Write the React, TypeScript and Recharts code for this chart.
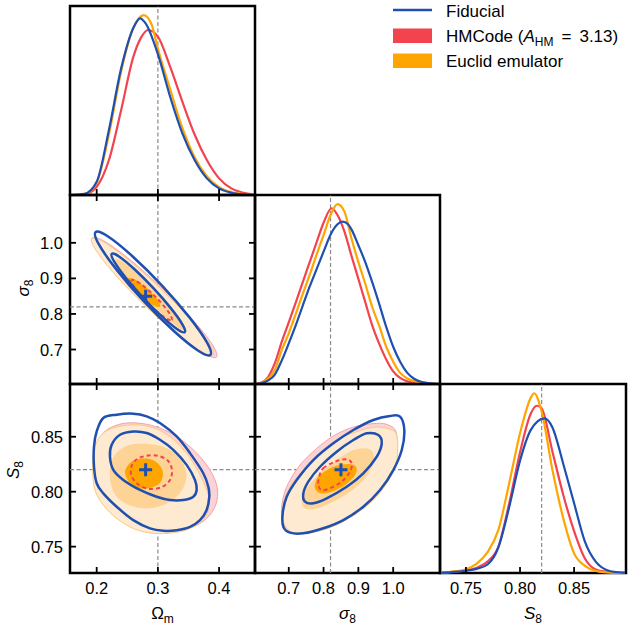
import React from 'react';
import { ComposedChart, Line, Scatter, XAxis, YAxis, ReferenceLine, ReferenceArea } from 'recharts';

// ---------- colours ----------
const BLUE = '#1f4fb0';
const RED = '#f2434e';
const ORANGE = '#ffa500';
const PINK_FILL = '#f9d3d5';
const PINK_EDGE = '#f3a3aa';
const OR2_FILL = '#feead0';
const OR2_EDGE = '#fdc880';
const OR1_FILL = '#fed396';
const CORE_FILL = '#ffa500';
const GREY = '#8a8a8a';
const FONT = '"Liberation Sans", Arial, sans-serif';

// ---------- axes ----------
const omDomain: [number, number] = [0.1564, 0.4587];
const sigDomain: [number, number] = [0.603, 1.1345];
const s8Domain: [number, number] = [0.726, 0.898];
const densDomain: [number, number] = [0, 1];

const omTicks = [0.2, 0.3, 0.4];
const omTickLabels = ['0.2', '0.3', '0.4'];
const sigTicks = [0.7, 0.8, 0.9, 1.0];
const sigTickLabels = ['0.7', '0.8', '0.9', '1.0'];
const s8Ticks = [0.75, 0.8, 0.85];
const s8TickLabels = ['0.75', '0.80', '0.85'];

const truthOm = 0.3;
const truthSig = 0.82;
const truthS8 = 0.82;
const bestOm = 0.28;
const bestSig = 0.85;
const bestS8 = 0.82;

// ---------- 1D marginals (x, normalised density) ----------
const omBlue = [[0.16, 0], [0.18, 0.006], [0.2, 0.07], [0.22, 0.344], [0.24, 0.67], [0.26, 0.885], [0.271, 0.935], [0.28, 0.908], [0.3, 0.745], [0.32, 0.52], [0.34, 0.326], [0.36, 0.185], [0.38, 0.088], [0.4, 0.035], [0.42, 0.012], [0.44, 0.003], [0.455, 0]];
const omRed = [[0.16, 0], [0.18, 0.004], [0.2, 0.044], [0.22, 0.185], [0.24, 0.45], [0.26, 0.732], [0.272, 0.83], [0.284, 0.873], [0.3, 0.838], [0.32, 0.679], [0.34, 0.494], [0.36, 0.32], [0.38, 0.185], [0.4, 0.088], [0.42, 0.035], [0.44, 0.012], [0.455, 0.003]];
const omOrange = [[0.16, 0], [0.18, 0.005], [0.2, 0.065], [0.22, 0.32], [0.24, 0.655], [0.26, 0.885], [0.277, 0.952], [0.29, 0.9], [0.3, 0.775], [0.32, 0.56], [0.34, 0.355], [0.36, 0.2], [0.38, 0.1], [0.4, 0.042], [0.42, 0.015], [0.44, 0.004], [0.455, 0]];

const sigBlue = [[0.605, 0], [0.62, 0.003], [0.64, 0.018], [0.66, 0.05], [0.68, 0.125], [0.7, 0.215], [0.72, 0.31], [0.74, 0.414], [0.76, 0.515], [0.78, 0.608], [0.8, 0.7], [0.82, 0.79], [0.84, 0.845], [0.855, 0.859], [0.87, 0.845], [0.88, 0.818], [0.9, 0.734], [0.92, 0.644], [0.94, 0.538], [0.96, 0.423], [0.98, 0.302], [1.0, 0.197], [1.02, 0.118], [1.04, 0.06], [1.06, 0.028], [1.08, 0.012], [1.1, 0.005], [1.13, 0]];
const sigRed = [[0.605, 0], [0.62, 0.006], [0.64, 0.035], [0.66, 0.11], [0.68, 0.224], [0.7, 0.326], [0.72, 0.43], [0.74, 0.538], [0.76, 0.644], [0.78, 0.75], [0.8, 0.853], [0.823, 0.93], [0.84, 0.894], [0.86, 0.806], [0.88, 0.679], [0.9, 0.556], [0.92, 0.432], [0.94, 0.309], [0.96, 0.212], [0.98, 0.13], [1.0, 0.067], [1.02, 0.032], [1.04, 0.014], [1.06, 0.006], [1.1, 0.001], [1.13, 0]];
const sigOrange = [[0.605, 0], [0.62, 0.005], [0.64, 0.027], [0.66, 0.074], [0.68, 0.18], [0.7, 0.268], [0.72, 0.37], [0.74, 0.476], [0.76, 0.577], [0.78, 0.684], [0.8, 0.788], [0.82, 0.894], [0.84, 0.952], [0.86, 0.912], [0.88, 0.771], [0.9, 0.645], [0.92, 0.529], [0.94, 0.406], [0.96, 0.307], [0.98, 0.197], [1.0, 0.118], [1.02, 0.059], [1.04, 0.03], [1.06, 0.015], [1.08, 0.007], [1.1, 0.003], [1.13, 0]];

const s8Blue = [[0.727, 0.001], [0.74, 0.006], [0.75, 0.012], [0.76, 0.022], [0.77, 0.045], [0.78, 0.136], [0.79, 0.349], [0.8, 0.594], [0.81, 0.757], [0.8225, 0.818], [0.83, 0.77], [0.84, 0.577], [0.85, 0.369], [0.86, 0.166], [0.87, 0.06], [0.88, 0.016], [0.89, 0.004], [0.897, 0.001]];
const s8Red = [[0.727, 0.001], [0.74, 0.007], [0.75, 0.013], [0.76, 0.028], [0.77, 0.06], [0.78, 0.14], [0.79, 0.369], [0.8, 0.639], [0.81, 0.844], [0.8155, 0.885], [0.82, 0.871], [0.83, 0.642], [0.84, 0.413], [0.85, 0.222], [0.86, 0.077], [0.87, 0.019], [0.88, 0.006], [0.89, 0.002], [0.897, 0]];
const s8Orange = [[0.727, 0.002], [0.74, 0.009], [0.75, 0.02], [0.76, 0.05], [0.77, 0.11], [0.78, 0.228], [0.79, 0.475], [0.8, 0.739], [0.81, 0.928], [0.813, 0.951], [0.82, 0.854], [0.83, 0.545], [0.84, 0.289], [0.85, 0.104], [0.86, 0.038], [0.87, 0.011], [0.88, 0.003], [0.897, 0]];

// ---------- 2D contours: Omega_m vs sigma_8 ----------
const pinkA = [[0.3959, 0.6786], [0.3892, 0.7132], [0.357, 0.7835], [0.308, 0.8707], [0.2555, 0.9511], [0.2134, 1.0034], [0.193, 1.0139], [0.1997, 0.9793], [0.232, 0.909], [0.2809, 0.8218], [0.3334, 0.7414], [0.3755, 0.6891]];
const orange2A = [[0.3902, 0.6848], [0.3835, 0.7184], [0.352, 0.7869], [0.3043, 0.8718], [0.253, 0.9506], [0.212, 1.0019], [0.1922, 1.0122], [0.1989, 0.9786], [0.2304, 0.9101], [0.2781, 0.8252], [0.3294, 0.7464], [0.3705, 0.6951]];
const orange1A = [[0.3459, 0.7529], [0.3417, 0.7723], [0.3234, 0.8133], [0.2958, 0.8651], [0.2662, 0.9137], [0.2427, 0.9461], [0.2316, 0.9537], [0.2358, 0.9343], [0.2541, 0.8932], [0.2817, 0.8415], [0.3113, 0.7928], [0.3348, 0.7605]];
const coreA = [[0.3035, 0.8204], [0.2999, 0.8395], [0.283, 0.8707], [0.2633, 0.896], [0.2517, 0.9002], [0.2554, 0.8811], [0.2722, 0.8499], [0.292, 0.8246]];
const dashA = [[0.3226, 0.783], [0.317, 0.8066], [0.2956, 0.8491], [0.2709, 0.8859], [0.2572, 0.8955], [0.2628, 0.8718], [0.2842, 0.8294], [0.3089, 0.7925]];
const blueOuterA = [[0.3858, 0.6848], [0.3804, 0.7194], [0.3513, 0.7911], [0.3064, 0.8806], [0.2575, 0.9638], [0.218, 1.0186], [0.1982, 1.0302], [0.2036, 0.9956], [0.2327, 0.9239], [0.2776, 0.8344], [0.3265, 0.7512], [0.366, 0.6964]];
const blueInnerA = [[0.344, 0.749], [0.3402, 0.7703], [0.3214, 0.8156], [0.2927, 0.8724], [0.2618, 0.9256], [0.237, 0.961], [0.2247, 0.9689], [0.2285, 0.9475], [0.2472, 0.9022], [0.276, 0.8454], [0.3069, 0.7923], [0.3317, 0.7568]];

// ---------- 2D contours: Omega_m vs S_8 ----------
const pinkB = [[0.2, 0.8411], [0.2108, 0.8534], [0.2272, 0.8594], [0.249, 0.8625], [0.2762, 0.8619], [0.3034, 0.8579], [0.3307, 0.8503], [0.3579, 0.8381], [0.3797, 0.8244], [0.3933, 0.8107], [0.3977, 0.7985], [0.3933, 0.7863], [0.3797, 0.7757], [0.3579, 0.768], [0.3307, 0.7644], [0.3034, 0.7634], [0.2762, 0.765], [0.249, 0.7711], [0.2245, 0.7817], [0.2082, 0.7954], [0.2, 0.8107], [0.1972, 0.826]];
const orange2B = [[0.1956, 0.8381], [0.2054, 0.8503], [0.2217, 0.857], [0.2435, 0.86], [0.2708, 0.8607], [0.298, 0.857], [0.3226, 0.8488], [0.347, 0.8351], [0.366, 0.8183], [0.3797, 0.8016], [0.384, 0.7894], [0.377, 0.7771], [0.3634, 0.7696], [0.3415, 0.7644], [0.3144, 0.762], [0.2871, 0.7625], [0.2598, 0.7665], [0.2327, 0.7757], [0.2108, 0.7878], [0.1972, 0.8016], [0.1935, 0.8198]];
const orange1B = [[0.2217, 0.8198], [0.2299, 0.8336], [0.2495, 0.8418], [0.2708, 0.8436], [0.2953, 0.8427], [0.3165, 0.839], [0.3329, 0.8317], [0.3443, 0.8217], [0.3459, 0.8107], [0.3361, 0.7988], [0.3165, 0.7897], [0.2904, 0.7851], [0.2626, 0.786], [0.2381, 0.7924], [0.225, 0.8034]];
const coreB = [[0.2462, 0.818], [0.2544, 0.8262], [0.2708, 0.8299], [0.2904, 0.829], [0.3034, 0.8235], [0.3083, 0.8162], [0.3034, 0.808], [0.2871, 0.8034], [0.2675, 0.8034], [0.2528, 0.8089]];
const dashB = [[0.2562, 0.8217], [0.2643, 0.829], [0.2806, 0.8326], [0.3002, 0.8326], [0.3165, 0.8281], [0.323, 0.8198], [0.3198, 0.8107], [0.3067, 0.8043], [0.2871, 0.8025], [0.2691, 0.8061], [0.2577, 0.8134]];
const blueOuterB = [[0.2, 0.8548], [0.2108, 0.8671], [0.2327, 0.8701], [0.2598, 0.871], [0.2817, 0.8686], [0.3034, 0.8625], [0.3307, 0.8503], [0.3525, 0.8351], [0.3742, 0.8168], [0.3824, 0.8046], [0.384, 0.7954], [0.3797, 0.7833], [0.3688, 0.7741], [0.3525, 0.768], [0.3307, 0.765], [0.3088, 0.7644], [0.2871, 0.7666], [0.2598, 0.7741], [0.2327, 0.7863], [0.2108, 0.7985], [0.2, 0.8077], [0.1956, 0.8229], [0.1956, 0.8411]];
const blueInnerB = [[0.2245, 0.8427], [0.2381, 0.8518], [0.2598, 0.8548], [0.2817, 0.8534], [0.3034, 0.8473], [0.3252, 0.8381], [0.347, 0.8244], [0.3606, 0.8107], [0.3634, 0.8016], [0.3579, 0.7954], [0.3415, 0.7924], [0.3198, 0.7924], [0.298, 0.7954], [0.2708, 0.8016], [0.2435, 0.8107], [0.2272, 0.8198], [0.2217, 0.832]];

// ---------- 2D contours: sigma_8 vs S_8 ----------
const pinkC = [[0.9527, 0.8622], [0.9861, 0.8607], [1.0082, 0.8546], [1.0102, 0.8379], [1.0004, 0.8227], [0.9766, 0.8076], [0.9381, 0.7924], [0.8904, 0.7803], [0.8329, 0.7697], [0.7754, 0.7642], [0.7275, 0.763], [0.6941, 0.7667], [0.6797, 0.7773], [0.6826, 0.7924], [0.6987, 0.8076], [0.7323, 0.8243], [0.7803, 0.8394], [0.8329, 0.8516], [0.8904, 0.8592]];
const orange2C = [[0.943, 0.8586], [0.9814, 0.8577], [1.0082, 0.8531], [1.0131, 0.8379], [1.0053, 0.8227], [0.9814, 0.8076], [0.943, 0.7924], [0.8953, 0.7803], [0.8378, 0.7697], [0.7803, 0.7636], [0.7323, 0.7621], [0.6987, 0.7651], [0.6826, 0.7758], [0.6843, 0.7894], [0.7036, 0.8046], [0.7418, 0.8197], [0.7898, 0.8349], [0.8378, 0.847], [0.8953, 0.8546]];
const orange1C = [[0.8855, 0.8379], [0.924, 0.8394], [0.943, 0.8349], [0.9382, 0.8227], [0.9142, 0.8106], [0.876, 0.8], [0.828, 0.7909], [0.7803, 0.7848], [0.7467, 0.7848], [0.7372, 0.7924], [0.7516, 0.8031], [0.7898, 0.8167], [0.8378, 0.8288]];
const coreC = [[0.7898, 0.8152], [0.828, 0.8227], [0.8711, 0.8252], [0.8932, 0.8227], [0.8904, 0.8152], [0.8616, 0.8061], [0.8233, 0.8], [0.7898, 0.7985], [0.7754, 0.8031], [0.7783, 0.81]];
const dashC = [[0.7993, 0.8213], [0.8329, 0.8273], [0.8665, 0.8295], [0.8809, 0.8258], [0.876, 0.8182], [0.8521, 0.8091], [0.8185, 0.8031], [0.7945, 0.8015], [0.7849, 0.8061], [0.7878, 0.8143]];
const blueOuterC = [[0.9909, 0.8689], [1.0197, 0.8683], [1.032, 0.8561], [1.0246, 0.8379], [1.0004, 0.8197], [0.9622, 0.8015], [0.9142, 0.7863], [0.8567, 0.7742], [0.7993, 0.7667], [0.7418, 0.7621], [0.7036, 0.7627], [0.6843, 0.7681], [0.6826, 0.7803], [0.6941, 0.7954], [0.7228, 0.8106], [0.7705, 0.8288], [0.828, 0.844], [0.8855, 0.8561], [0.943, 0.8652]];
const blueInnerC = [[0.8855, 0.847], [0.924, 0.8531], [0.9573, 0.8516], [0.9671, 0.844], [0.9527, 0.8318], [0.9142, 0.8167], [0.8665, 0.8045], [0.809, 0.794], [0.7705, 0.7894], [0.7467, 0.7909], [0.7418, 0.7985], [0.7562, 0.8091], [0.7898, 0.8227], [0.8378, 0.8364]];

// ---------- helpers ----------
type P = { x: number; y: number };
const toXY = (arr: number[][]): P[] => arr.map(([x, y]) => ({ x, y }));

function closedSmooth(pts: P[]): string {
  const n = pts.length;
  if (n < 3) return '';
  let d = `M${pts[0].x},${pts[0].y}`;
  for (let i = 0; i < n; i++) {
    const p0 = pts[(i - 1 + n) % n];
    const p1 = pts[i];
    const p2 = pts[(i + 1) % n];
    const p3 = pts[(i + 2) % n];
    const c1x = p1.x + (p2.x - p0.x) / 6;
    const c1y = p1.y + (p2.y - p0.y) / 6;
    const c2x = p2.x - (p3.x - p1.x) / 6;
    const c2y = p2.y - (p3.y - p1.y) / 6;
    d += `C${c1x},${c1y} ${c2x},${c2y} ${p2.x},${p2.y}`;
  }
  return d + 'Z';
}

const noDot = () => <g />;

function contour(key: string, pts: number[][], fill: string, stroke: string, sw: number, dash?: string) {
  return (
    <Scatter
      key={key}
      data={toXY(pts)}
      isAnimationActive={false}
      shape={noDot}
      lineType="joint"
      line={(lp: any) => (
        <path d={closedSmooth(lp.points)} fill={fill} stroke={stroke} strokeWidth={sw} strokeDasharray={dash} strokeLinejoin="round" />
      )}
    />
  );
}

function marginal(key: string, pts: number[][], color: string) {
  return <Line key={key} data={toXY(pts)} dataKey="y" type="monotone" stroke={color} strokeWidth={2.2} dot={false} activeDot={false} isAnimationActive={false} />;
}

function bestFitMarker(key: string, x: number, y: number) {
  return (
    <Scatter
      key={key}
      data={[{ x, y }]}
      isAnimationActive={false}
      shape={(p: any) => (
        <path d={`M${p.cx - 6.5},${p.cy}H${p.cx + 6.5}M${p.cx},${p.cy - 6.5}V${p.cy + 6.5}`} stroke={BLUE} strokeWidth={3} fill="none" />
      )}
    />
  );
}

// ---------- layout ----------
const L = 70;
const T = 6;
const R = 4;
const B = 50;
const colX = [70, 255, 440];
const colW = [185, 185, 186];
const rowY = [6, 195, 384];
const rowH = [189, 189, 189];
const TICK = 6;

type PanelProps = {
  col: number;
  row: number;
  xDomain: [number, number];
  yDomain: [number, number];
  xTicks: number[];
  xTickLabels: string[];
  yTicks?: number[];
  yTickLabels?: string[];
  showX: boolean;
  showY: boolean;
  twoD: boolean;
  children: React.ReactNode;
};

function Panel({ col, row, xDomain, yDomain, xTicks, xTickLabels, yTicks, yTickLabels, showX, showY, twoD, children }: PanelProps) {
  const w = colW[col];
  const h = rowH[row];
  const bottom = T + h;
  const xTick = (p: any) => {
    const x = p.x;
    const idx = xTicks.indexOf(p.payload.value);
    return (
      <g>
        <line x1={x} y1={bottom} x2={x} y2={bottom - TICK} stroke="#000" strokeWidth={1.8} />
        {twoD && <line x1={x} y1={T} x2={x} y2={T + TICK} stroke="#000" strokeWidth={1.8} />}
        {showX && (
          <text x={x} y={bottom + 20.5} textAnchor="middle" fontFamily={FONT} fontSize={16.5} fill="#000">
            {xTickLabels[idx]}
          </text>
        )}
      </g>
    );
  };
  const yTick = (p: any) => {
    const y = p.y;
    const idx = (yTicks || []).indexOf(p.payload.value);
    return (
      <g>
        <line x1={L} y1={y} x2={L + TICK} y2={y} stroke="#000" strokeWidth={1.8} />
        <line x1={L + w} y1={y} x2={L + w - TICK} y2={y} stroke="#000" strokeWidth={1.8} />
        {showY && (
          <text x={L - 7} y={y + 6} textAnchor="end" fontFamily={FONT} fontSize={16.5} fill="#000">
            {(yTickLabels || [])[idx]}
          </text>
        )}
      </g>
    );
  };
  return (
    <div style={{ position: 'absolute', left: colX[col] - L, top: rowY[row] - T }}>
      <ComposedChart width={L + w + R} height={T + h + B} margin={{ top: T, right: R, bottom: 0, left: 0 }}>
        <XAxis type="number" dataKey="x" domain={xDomain} ticks={xTicks} interval={0} height={B} tickSize={0} tickLine={false} axisLine={false} tick={xTick} />
        <YAxis
          type="number"
          dataKey="y"
          domain={yDomain}
          ticks={yTicks || []}
          interval={0}
          width={L}
          tickSize={0}
          tickLine={false}
          axisLine={false}
          tick={yTicks ? yTick : false}
        />
        {children}
        <ReferenceArea x1={xDomain[0]} x2={xDomain[1]} y1={yDomain[0]} y2={yDomain[1]} fill="none" fillOpacity={0} stroke="#000" strokeWidth={2.5} />
      </ComposedChart>
    </div>
  );
}

const vLine = (key: string, x: number) => <ReferenceLine key={key} x={x} stroke={GREY} strokeWidth={1.2} strokeDasharray="4 2.5" />;
const hLine = (key: string, y: number) => <ReferenceLine key={key} y={y} stroke={GREY} strokeWidth={1.2} strokeDasharray="4 2.5" />;

function twoDSet(prefix: string, pink: number[][], or2: number[][], or1: number[][], core: number[][], dash: number[][], outer: number[][], inner: number[][], tx: number, ty: number, bx: number, by: number) {
  return [
    contour(prefix + 'pink', pink, PINK_FILL, PINK_EDGE, 1),
    contour(prefix + 'or2', or2, OR2_FILL, OR2_EDGE, 1),
    contour(prefix + 'or1', or1, OR1_FILL, 'none', 0),
    contour(prefix + 'core', core, CORE_FILL, 'none', 0),
    vLine(prefix + 'tv', tx),
    hLine(prefix + 'th', ty),
    contour(prefix + 'dash', dash, 'none', RED, 2, '4 3'),
    contour(prefix + 'outer', outer, 'none', BLUE, 2.5),
    contour(prefix + 'inner', inner, 'none', BLUE, 2.5),
    bestFitMarker(prefix + 'bf', bx, by),
  ];
}

export default function App() {
  return (
    <div style={{ position: 'absolute', left: 0, top: 0, width: 630, height: 632, overflow: 'hidden', background: '#fff' }}>
      {/* Omega_m marginal */}
      <Panel col={0} row={0} xDomain={omDomain} yDomain={densDomain} xTicks={omTicks} xTickLabels={omTickLabels} showX={false} showY={false} twoD={false}>
        {vLine('t', truthOm)}
        {marginal('r', omRed, RED)}
        {marginal('o', omOrange, ORANGE)}
        {marginal('b', omBlue, BLUE)}
      </Panel>
      {/* Omega_m vs sigma_8 */}
      <Panel col={0} row={1} xDomain={omDomain} yDomain={sigDomain} xTicks={omTicks} xTickLabels={omTickLabels} yTicks={sigTicks} yTickLabels={sigTickLabels} showX={false} showY={true} twoD={true}>
        {twoDSet('a', pinkA, orange2A, orange1A, coreA, dashA, blueOuterA, blueInnerA, truthOm, truthSig, bestOm, bestSig)}
      </Panel>
      {/* sigma_8 marginal */}
      <Panel col={1} row={1} xDomain={sigDomain} yDomain={densDomain} xTicks={sigTicks} xTickLabels={sigTickLabels} showX={false} showY={false} twoD={false}>
        {vLine('t', truthSig)}
        {marginal('r', sigRed, RED)}
        {marginal('o', sigOrange, ORANGE)}
        {marginal('b', sigBlue, BLUE)}
      </Panel>
      {/* Omega_m vs S_8 */}
      <Panel col={0} row={2} xDomain={omDomain} yDomain={s8Domain} xTicks={omTicks} xTickLabels={omTickLabels} yTicks={s8Ticks} yTickLabels={s8TickLabels} showX={true} showY={true} twoD={true}>
        {twoDSet('b', pinkB, orange2B, orange1B, coreB, dashB, blueOuterB, blueInnerB, truthOm, truthS8, bestOm, bestS8)}
      </Panel>
      {/* sigma_8 vs S_8 */}
      <Panel col={1} row={2} xDomain={sigDomain} yDomain={s8Domain} xTicks={sigTicks} xTickLabels={sigTickLabels} yTicks={s8Ticks} yTickLabels={s8TickLabels} showX={true} showY={false} twoD={true}>
        {twoDSet('c', pinkC, orange2C, orange1C, coreC, dashC, blueOuterC, blueInnerC, truthSig, truthS8, bestSig, bestS8)}
      </Panel>
      {/* S_8 marginal */}
      <Panel col={2} row={2} xDomain={s8Domain} yDomain={densDomain} xTicks={s8Ticks} xTickLabels={s8TickLabels} showX={true} showY={false} twoD={false}>
        {vLine('t', truthS8)}
        {marginal('r', s8Red, RED)}
        {marginal('o', s8Orange, ORANGE)}
        {marginal('b', s8Blue, BLUE)}
      </Panel>

      {/* legend and axis titles */}
      <svg width={630} height={632} style={{ position: 'absolute', left: 0, top: 0, pointerEvents: 'none' }} fontFamily={FONT} fill="#000">
        <line x1={393} y1={10} x2={432} y2={10} stroke={BLUE} strokeWidth={2.5} />
        <rect x={393} y={28.5} width={39} height={14.5} fill={RED} />
        <rect x={393} y={53.5} width={39} height={14.5} fill={ORANGE} />
        <text x={446} y={16.5} fontSize={17}>Fiducial</text>
        <text x={446} y={41.5} fontSize={17}>{'HMCode ('}<tspan fontStyle="italic">A</tspan><tspan fontSize={12} dy={4}>HM</tspan><tspan dx={8} dy={-4}>=</tspan><tspan dx={8}>{'3.13)'}</tspan></text>
        <text x={446} y={66.5} fontSize={17}>Euclid emulator</text>

        <text x={162.5} y={619} fontSize={17} textAnchor="middle">{'Ω'}<tspan fontSize={12} dy={3.5}>m</tspan></text>
        <text x={347.5} y={619} fontSize={17} textAnchor="middle"><tspan fontStyle="italic">σ</tspan><tspan fontSize={12} dy={3.5}>8</tspan></text>
        <text x={533} y={619} fontSize={17} textAnchor="middle"><tspan fontStyle="italic">S</tspan><tspan fontSize={12} dy={3.5}>8</tspan></text>
        <text x={29} y={288} fontSize={17} textAnchor="middle" transform="rotate(-90 29 288)"><tspan fontStyle="italic">σ</tspan><tspan fontSize={12} dy={3.5}>8</tspan></text>
        <text x={19} y={470} fontSize={17} textAnchor="middle" transform="rotate(-90 19 470)"><tspan fontStyle="italic">S</tspan><tspan fontSize={12} dy={3.5}>8</tspan></text>
      </svg>
    </div>
  );
}
